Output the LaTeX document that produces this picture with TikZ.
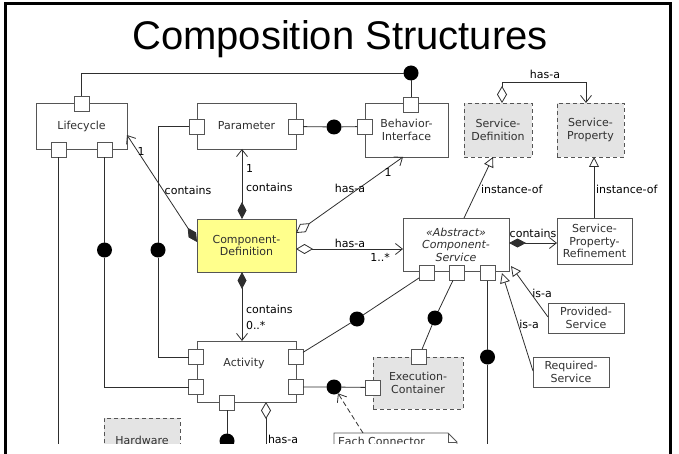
\documentclass[tikz,border=0pt]{standalone}
\usepackage{fontspec}
\setmainfont{DejaVu Sans}
\newfontfamily\titlefont{Liberation Sans}
\usetikzlibrary{arrows.meta,calc}

\definecolor{boxc}{HTML}{555555}
\definecolor{linec}{HTML}{2E2E2E}
\definecolor{shade}{HTML}{E4E4E4}
\definecolor{cdyellow}{HTML}{FFFF8C}
\definecolor{txtc}{HTML}{303030}

\begin{document}
\begin{tikzpicture}[x=1pt,y=-1pt,
  every node/.style={inner sep=0pt, outer sep=0pt},
  txt/.style={font=\fontsize{11}{12.4}\selectfont, text=txtc, align=center},
  umlbox/.style={txt, draw=boxc, fill=white, line width=0.9pt},
  shadebox/.style={umlbox, fill=shade, dashed, dash pattern=on 4pt off 3pt},
  portsq/.style={draw=boxc, fill=white, line width=0.9pt, minimum size=15pt},
  joint/.style={circle, fill=black, minimum size=15pt},
  conn/.style={draw=linec, line width=0.8pt},
  lbl/.style={txt, text=black},
  barb/.style={-{Straight Barb[length=7pt,width=11pt,line width=0.8pt]}},
  compo/.style={{Diamond[length=17pt,width=9pt]}-{Straight Barb[length=7pt,width=11pt,line width=0.8pt]}},
  aggr/.style={{Diamond[open,length=17pt,width=10pt,fill=white,line width=0.8pt]}-{Straight Barb[length=7pt,width=11pt,line width=0.8pt]}},
  aggrplain/.style={{Diamond[open,length=17pt,width=10pt,fill=white,line width=0.8pt]}-},
  gen/.style={-{Triangle[open,length=10pt,width=10pt,fill=white,line width=0.8pt]}}
]
\useasboundingbox (0,0) rectangle (679,454);

% slide frame and title
\draw[line width=2.5pt] (5.5,454) -- (5.5,3.5) -- (670.5,3.5) -- (670.5,454);
\node[font=\titlefont\fontsize{40}{48}\selectfont, anchor=base] (title) at (340,50) {Composition Structures};

\begin{scope}
\clip (7,6) rectangle (669,443);

% ---------- classes ----------
\node[umlbox, minimum width=91pt, minimum height=46pt] (life) at (81.5,126) {Lifecycle};
\node[umlbox, minimum width=99pt, minimum height=46pt] (param) at (246.5,126) {Parameter};
\node[umlbox, minimum width=83pt, minimum height=54pt] (bif) at (406.5,130) {Behavior-\\Interface};
\node[shadebox, minimum width=68pt, minimum height=54pt] (sdef) at (498,130) {Service-\\Definition};
\node[shadebox, minimum width=67pt, minimum height=54pt] (sprop) at (590.5,130) {Service-\\Property};
\node[umlbox, fill=cdyellow, minimum width=99pt, minimum height=53pt] (cdef) at (246.5,245.5) {Component-\\Definition};
\node[umlbox, minimum width=106pt, minimum height=53pt, font=\fontsize{11}{12.4}\selectfont\itshape] (csrv) at (456,244.5) {«Abstract»\\Component-\\Service};
\node[umlbox, minimum width=75pt, minimum height=46pt] (sref) at (594.5,241) {Service-\\Property-\\Refinement};
\node[umlbox, minimum width=76pt, minimum height=30pt] (prov) at (586,318) {Provided-\\Service};
\node[umlbox, minimum width=76pt, minimum height=30pt] (req) at (571,372) {Required-\\Service};
\node[shadebox, minimum width=90pt, minimum height=52pt] (exec) at (418,383) {Execution-\\Container};
\node[umlbox, minimum width=99pt, minimum height=61pt] (act) at (246.5,371.5) {};
\node[txt] (actname) at (244,363) {Activity};
\node[shadebox, minimum width=76pt, minimum height=44pt] (hw) at (142,440) {Hardware};

% note attached to the connector joint
\draw[draw=boxc, line width=0.9pt, fill=white] (334,470) -- (334,433) -- (448,433) -- (457,442) -- (457,470);
\draw[draw=boxc, line width=0.9pt] (448,433) -- (448,442) -- (457,442);
\node[txt, anchor=base west] (notetext) at (338,445.5) {Each Connector};
\coordinate (notetop) at (363,433);

% ---------- ports ----------
\node[portsq] (ltop) at (81.5,104) {};
\node[portsq] (lbot1) at (58.5,150) {};
\node[portsq] (lbot2) at (104.5,150) {};
\node[portsq] (pleft) at (196.5,126.5) {};
\node[portsq] (pright) at (295.5,126.5) {};
\node[portsq] (bleft) at (364.5,126.5) {};
\node[portsq] (btop) at (411,104.5) {};
\node[portsq] (cp1) at (426.5,273) {};
\node[portsq] (cp2) at (456.5,273) {};
\node[portsq] (cp3) at (487.5,273) {};
\node[portsq] (etop) at (419,356.5) {};
\node[portsq] (eleft) at (372.5,387.5) {};
\node[portsq] (al1) at (196,357) {};
\node[portsq] (al2) at (196,387) {};
\node[portsq] (ar1) at (295.5,357) {};
\node[portsq] (ar2) at (295.5,387) {};
\node[portsq] (abot) at (227,402.5) {};

% ---------- assembly joints ----------
\node[joint] (j1) at (411,73) {};
\node[joint] (j2) at (334,127) {};
\node[joint] (j3) at (104.5,250) {};
\node[joint] (j4) at (158,250) {};
\node[joint] (j5) at (357,319) {};
\node[joint] (j6) at (435,318) {};
\node[joint] (j7) at (487.5,357) {};
\node[joint] (j8) at (334,387) {};
\node[joint] (j9) at (227,441) {};

\coordinate (lbot1end) at (58.5,470);
\coordinate (cp3end) at (487.5,470);
\coordinate (actdia) at (266,402);
\coordinate (actdiaend) at (266,470);

% ---------- port wiring ----------
\draw[conn] (ltop) |- (j1);
\draw[conn] (j1) -- (btop);
\draw[conn] (pright) -- (j2) -- (bleft);
\draw[conn] (lbot1) -- (lbot1end);
\draw[conn] (lbot2) -- (j3);
\draw[conn] (j3) |- (al2);
\draw[conn] (pleft) -| (j4);
\draw[conn] (j4) |- (al1);
\draw[conn] (ar1) -- (j5) -- (cp1);
\draw[conn] (ar2) -- (j8) -- (eleft);
\draw[conn] (cp2) -- (j6) -- (etop);
\draw[conn] (cp3) -- (j7) -- (cp3end);
\draw[conn] (abot) -- (j9);
\draw[conn, dashed, dash pattern=on 5pt off 3pt, barb] (notetop) -- (j8);

% ---------- associations ----------
\coordinate (cdA) at (197,242);
\coordinate (lifeA) at (127,135);
\draw[conn, compo] (cdA) -- (lifeA);
\draw[conn, compo] ([xshift=-4.5pt]cdef.north) -- ([xshift=-4.5pt]param.south);
\coordinate (cdB) at (296,233);
\coordinate (bifB) at (403,157);
\draw[conn, aggr] (cdB) -- (bifB);
\coordinate (cdC) at (296,249);
\coordinate (csC) at (403,249);
\draw[conn, aggr] (cdC) -- (csC);
\draw[conn, compo] ([xshift=-4.5pt]cdef.south) -- ([xshift=-4.5pt]act.north);
\draw[conn, aggrplain] (actdia) -- (actdiaend);

\coordinate (csD) at (464,218);
\coordinate (sdefD) at (493,157);
\draw[conn, gen] (csD) -- (sdefD);
\coordinate (srefE) at (594,218);
\coordinate (spropE) at (594,157);
\draw[conn, gen] (srefE) -- (spropE);
\coordinate (sdefF) at (502,103);
\coordinate (spropF) at (586,103);
\draw[conn, aggr] (sdefF) -- (502,82) -| (spropF);
\coordinate (csG) at (509,243);
\coordinate (srefG) at (557,243);
\draw[conn, compo] (csG) -- (srefG);
\coordinate (provH) at (548,317);
\coordinate (csH) at (511,266);
\draw[conn, gen] (provH) -- (csH);
\coordinate (reqI) at (533,371);
\coordinate (csI) at (502,273);
\draw[conn, gen] (reqI) -- (csI);

% ---------- labels ----------
\node[lbl] (l1) at (188,190) {contains};
\node[lbl] (l2) at (141,151) {1};
\node[lbl, anchor=west] (l3) at (246,168) {1};
\node[lbl, anchor=west] (l4) at (246,187) {contains};
\node[lbl] (l5) at (350,188) {has-a};
\node[lbl] (l6) at (388,172) {1};
\node[lbl] (l7) at (350,243) {has-a};
\node[lbl] (l8) at (380,257) {1..*};
\node[lbl, anchor=west] (l9) at (246,309) {contains};
\node[lbl, anchor=west] (l10) at (246,325) {0..*};
\node[lbl, anchor=west] (l11) at (481,189) {instance-of};
\node[lbl, anchor=west] (l12) at (596,189) {instance-of};
\node[lbl] (l13) at (545,74) {has-a};
\node[lbl] (l14) at (533,233) {contains};
\node[lbl] (l15) at (542,293) {is-a};
\node[lbl] (l16) at (529,324) {is-a};
\node[lbl, anchor=west] (l17) at (268,439) {has-a};
\end{scope}
\end{tikzpicture}
\end{document}
